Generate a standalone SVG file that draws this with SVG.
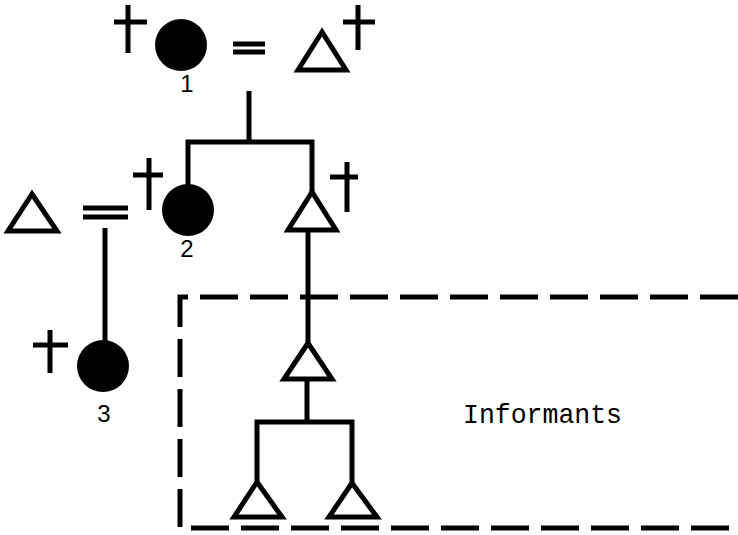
<svg xmlns="http://www.w3.org/2000/svg" width="738" height="535" viewBox="0 0 738 535">
<style>
.ln{stroke:#000;stroke-width:5;fill:none;stroke-linecap:butt}
.tri{stroke:#000;stroke-width:5;fill:#fff;stroke-linejoin:miter}
.fem{fill:#000}
.cr{stroke:#000;stroke-width:5;fill:none}
.eq{stroke:#000;stroke-width:5;fill:none}
.num{font-family:"Liberation Sans",Arial,sans-serif;font-size:24px;fill:#000;text-anchor:middle}
.lbl{font-family:"Liberation Mono","Courier New",monospace;font-size:28px;fill:#000}
.box{stroke:#000;stroke-width:5;fill:none;stroke-dasharray:38 12}
</style>
<rect width="738" height="535" fill="#fff"/>
<g id="connectors">
  <path class="eq" d="M233 44H265M233 52H265"/>
  <path class="ln" d="M249 91V142"/>
  <path class="ln" d="M188 185V142H312V192"/>
  <path class="eq" d="M83 208H128M83 217H128"/>
  <path class="ln" d="M105 228V342"/>
  <path class="ln" d="M308 232V342"/>
  <path class="ln" d="M307 380V422"/>
  <path class="ln" d="M257 482V422H352V482"/>
</g>
<g id="box">
  <path class="box" d="M738 297H180V528H738"/>
  <text class="lbl" x="463" y="423" textLength="159" lengthAdjust="spacingAndGlyphs">Informants</text>
</g>
<g id="n1">
  <circle class="fem" cx="181" cy="45" r="26"/>
  <path class="cr" d="M128 5V53M114 22H147"/>
  <text class="num" x="187" y="92">1</text>
</g>
<g id="n1h">
  <polygon class="tri" points="322,32 298,70 346,70"/>
  <path class="cr" d="M358 5V50M343 22H375"/>
</g>
<g id="n2">
  <circle class="fem" cx="188" cy="210" r="26"/>
  <path class="cr" d="M149 158V210M133 175H163"/>
  <text class="num" x="187" y="257">2</text>
</g>
<g id="n2h">
  <polygon class="tri" points="32,194 8,231 57,231"/>
</g>
<g id="n2b">
  <polygon class="tri" points="312,192 288,230 336,230"/>
  <path class="cr" d="M347 162V212M330 177H358"/>
</g>
<g id="n3">
  <circle class="fem" cx="103" cy="366" r="26"/>
  <path class="cr" d="M50 330V373M33 345H68"/>
  <text class="num" x="104" y="422">3</text>
</g>
<g id="n4">
  <polygon class="tri" points="308,343 284,379 332,379"/>
</g>
<g id="n5">
  <polygon class="tri" points="257,482 234,517 282,517"/>
</g>
<g id="n6">
  <polygon class="tri" points="352,483 329,517 377,517"/>
</g>
</svg>
